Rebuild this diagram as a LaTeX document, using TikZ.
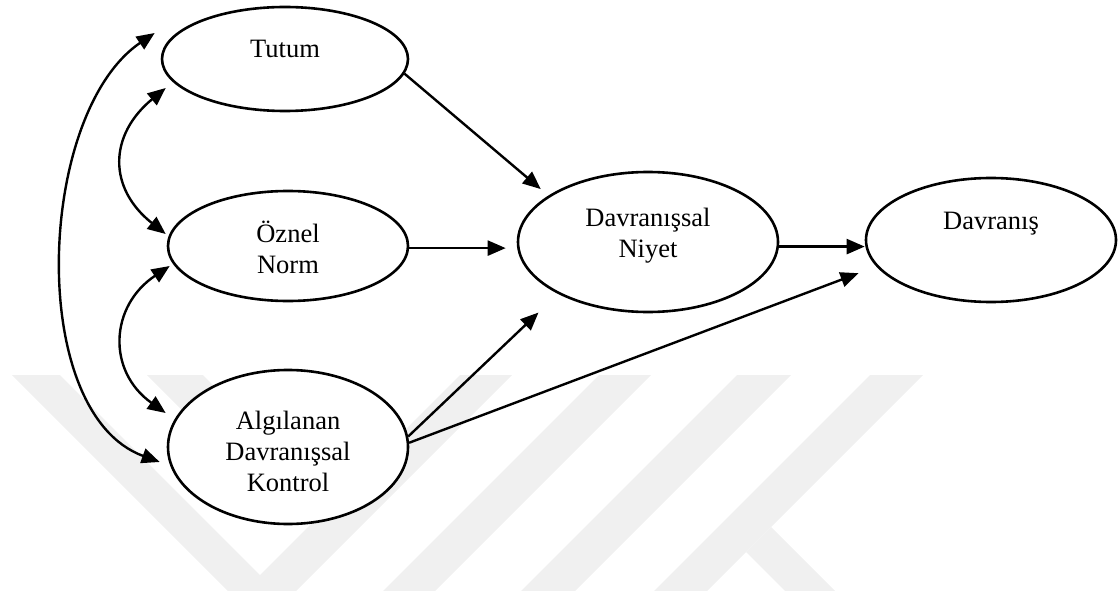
\documentclass[tikz,border=0pt]{standalone}
\usepackage{fontspec}
\setmainfont{Liberation Serif}
\usetikzlibrary{shapes.geometric,arrows.meta}
\definecolor{wm}{RGB}{240,240,240}
\begin{document}
\begin{tikzpicture}[x=1pt,y=-1pt,
  ell/.style={draw, ellipse, line width=2.6pt, fill=white, inner sep=0pt},
  txt/.style={font=\fontsize{26.5}{31}\selectfont, align=center, inner sep=0pt},
  arr/.style={line width=2.4pt, -{Triangle[length=18pt,width=15pt]}},
  dbl/.style={line width=2.4pt, {Triangle[length=18pt,width=15pt]}-{Triangle[length=18pt,width=15pt]}},
  wmark/.style={fill=wm, draw=none}]
\useasboundingbox (0,0) rectangle (1119,591);
% faint background watermark
\fill[wmark] (12,375) -- (60,375) -- (260,575) -- (460,375) -- (512,375) -- (296,591) -- (228,591) -- cycle;
\fill[wmark] (147,375) -- (203,375) -- (300,472) -- (272,500) -- cycle;
\fill[wmark] (599,375) -- (651,375) -- (435,591) -- (383,591) -- cycle;
\fill[wmark] (737,375) -- (791,375) -- (575,591) -- (521,591) -- cycle;
\fill[wmark] (870,375) -- (923,375) -- (707,591) -- (654,591) -- cycle;
\fill[wmark] (771,527) -- (835,591) -- (785,591) -- (746,552) -- cycle;
% ellipses
\node[ell, minimum width=246pt, minimum height=104pt] (tutum) at (285,59) {};
\node[ell, minimum width=240pt, minimum height=110pt] (oznel) at (288,246) {};
\node[ell, minimum width=240pt, minimum height=154pt] (alg) at (288,447) {};
\node[ell, minimum width=260pt, minimum height=140pt] (niyet) at (648,242) {};
\node[ell, minimum width=250pt, minimum height=124pt] (davranis) at (991,240) {};
% texts
\node[txt] (tutumT) at ([yshift=9.6pt]tutum.center) {Tutum};
\node[txt] (oznelT) at ([yshift=-1.7pt]oznel.center) {Öznel\\Norm};
\node[txt] (algT) at ([yshift=-4pt]alg.center) {Algılanan\\Davranışsal\\Kontrol};
\node[txt] (niyetT) at ([yshift=6pt]niyet.center) {Davranışsal\\Niyet};
\node[txt] (davT) at ([yshift=16pt]davranis.center) {Davranış};
% straight arrows
\draw[arr, shorten >=10pt] (tutum.-7) -- (niyet.155.6);
\draw[arr, shorten >=11pt] (oznel.-1) -- (oznel.-1 -| niyet.west);
\draw[arr] (niyet.-2) -- (niyet.-2 -| davranis.west);
\draw[arr, shorten >=27pt] (alg.5) -- (niyet.210.8);
\draw[arr, shorten >=19pt] (alg.2) -- (davranis.193);
% curved double arrows
\draw[dbl] ([shift={(-6,-26)}]tutum.west) .. controls +(-118,80) and +(-134,-49) .. ([shift={(-7,15)}]alg.west);
\draw[dbl] ([shift={(5,29)}]tutum.west) .. controls +(-57,47) and +(-58,-46) .. ([shift={(-1,-12)}]oznel.west);
\draw[dbl] ([shift={(3,20)}]oznel.west) .. controls +(-60,40) and +(-59,-42) .. ([shift={(-1,-34)}]alg.west);
\end{tikzpicture}
\end{document}
